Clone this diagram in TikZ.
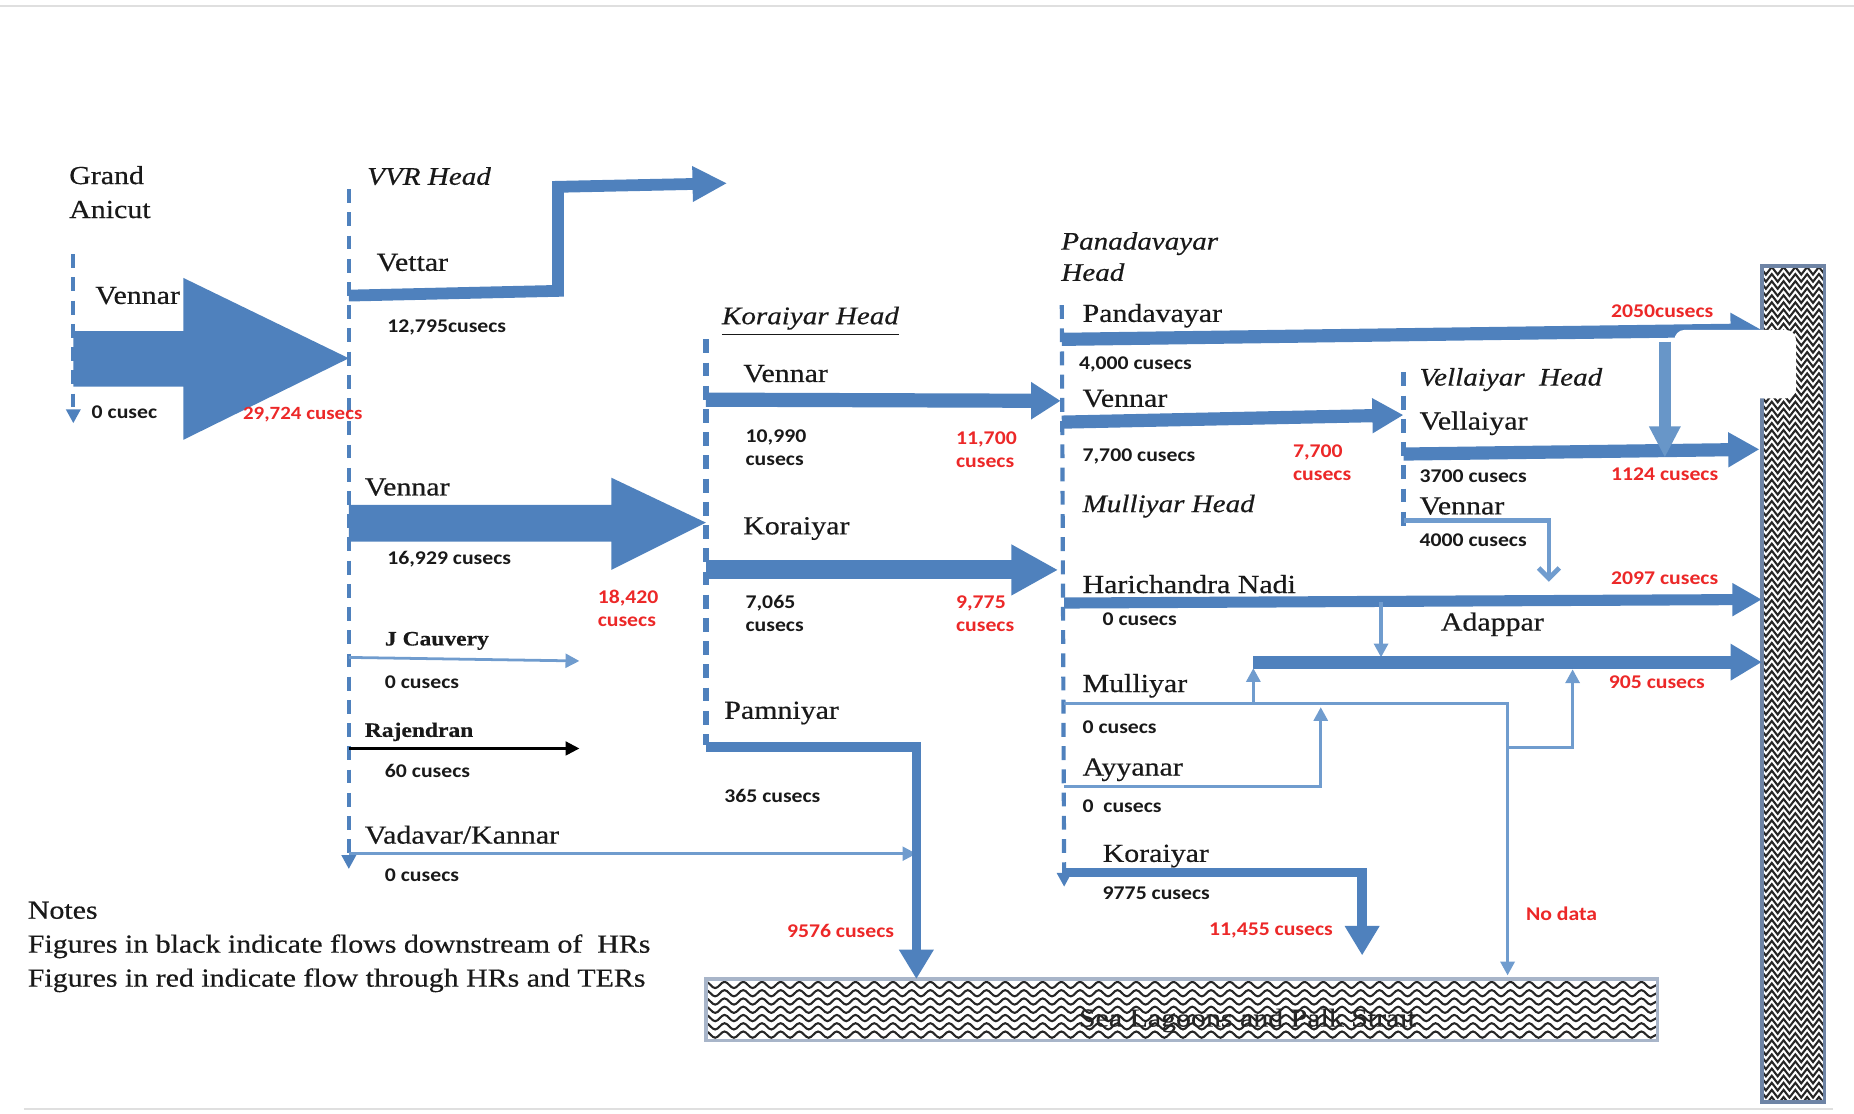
\documentclass[tikz,border=0pt]{standalone}
\usepackage{fontspec}
\setmainfont{Liberation Serif}[FakeStretch=1.15, FakeBold=0.5]
\newfontfamily\numfont{Carlito}[FakeStretch=1.12]
\usetikzlibrary{arrows.meta, decorations.pathmorphing}
\definecolor{riverblue}{RGB}{79,129,189}
\definecolor{thinblue}{RGB}{112,156,206}
\definecolor{dropblue}{RGB}{104,150,200}
\definecolor{flowred}{RGB}{236,40,40}
\definecolor{seaedge}{RGB}{110,132,165}
\tikzstyle{canal} = [font=\fontsize{7.5}{9.8}\selectfont, anchor=west, inner sep=0pt, align=left, text=black!90]
\tikzstyle{headname} = [canal, font=\fontsize{7.3}{9}\selectfont\itshape]
\tikzstyle{smallcanal} = [canal, font=\fontsize{5.9}{7}\selectfont\bfseries]
\tikzstyle{flowtxt} = [font=\numfont\bfseries\fontsize{5.6}{6.6}\selectfont, anchor=west, inner sep=0pt, align=left, text=black!90]
\tikzstyle{redtxt} = [flowtxt, text=flowred]
\tikzstyle{dashline} = [draw=riverblue, line width=1.2pt, dash pattern=on 4pt off 2.7pt, -{Triangle[width=4pt,length=4pt]}]
\tikzstyle{bigflow} = [draw=riverblue, line join=miter]
\tikzstyle{thinflow} = [draw=thinblue, line width=1pt, line join=miter, -{Triangle[width=4pt,length=4pt]}]

\begin{document}
\begin{tikzpicture}[x=0.012cm, y=-0.012cm]
\useasboundingbox (0,0) rectangle (1568,942);

% faint frame lines
\draw[gray!25, line width=0.6pt] (0,5) -- (1568,5);
\draw[gray!25, line width=0.6pt] (20,938) -- (1550,938);

% sea panels
\begin{scope}
  \clip (1490,225) rectangle (1543,932);
  \foreach \y in {229,235,...,932}
    \draw[black!85, line width=0.6pt, decorate, decoration={zigzag, segment length=3.4pt, amplitude=1.1pt}] (1486,\y) -- (1547,\y);
\end{scope}
\draw[seaedge, line width=1pt] (1490,225) rectangle (1543,932);
\begin{scope}
  \clip (597,828) rectangle (1402,880);
  \foreach \y in {833,840,...,880}
    \draw[black!85, line width=0.6pt, decorate, decoration={snake, segment length=5.4pt, amplitude=0.9pt}] (592,\y) -- (1408,\y);
\end{scope}
\draw[seaedge!60, line width=1pt] (597,828) rectangle (1402,880);
\node (sea) [canal, anchor=center, text=black!85] at (1055,863) {Sea Lagoons and Palk Strait};

% points of the canals
\coordinate (gatop) at (62,215);   \coordinate (gaend) at (62,358);
\coordinate (vvrtop) at (295,160); \coordinate (vvrend) at (295,735);
\coordinate (kortop) at (597,287); \coordinate (korend) at (597,630);
\coordinate (pantop) at (898,258); \coordinate (panend) at (900,750);
\coordinate (veltop) at (1187,315); \coordinate (velend) at (1187,452);

\coordinate (vet0) at (295,250); \coordinate (vet1) at (472,246);
\coordinate (vet2) at (472,158); \coordinate (vet3) at (615,155);
\coordinate (jc0) at (295,556);  \coordinate (jc1) at (490,559);
\coordinate (raj0) at (295,633); \coordinate (raj1) at (490,633);
\coordinate (vad0) at (295,722); \coordinate (vad1) at (775,722);

\coordinate (kven0) at (597,338); \coordinate (kven1) at (897,339);
\coordinate (kkor0) at (597,482); \coordinate (kkor1) at (895,482);
\coordinate (pam0) at (597,632);  \coordinate (pam1) at (775,632);
\coordinate (pam2) at (775,828);

\coordinate (pand0) at (898,287); \coordinate (pand1) at (1490,279);
\coordinate (pven0) at (898,357); \coordinate (pven1) at (1187,351);
\coordinate (har0) at (900,510);  \coordinate (har1) at (1490,507);
\coordinate (har2) at (1168,509); \coordinate (har3) at (1168,556);
\coordinate (ada0) at (1060,560); \coordinate (ada1) at (1490,560);
\coordinate (mul0) at (900,595);  \coordinate (mul1) at (1275,595);
\coordinate (mul2) at (1275,825); \coordinate (mul3) at (1060,595);
\coordinate (mul4) at (1060,565); \coordinate (mul5) at (1275,632);
\coordinate (mul6) at (1330,632); \coordinate (mul7) at (1330,566);
\coordinate (ayy0) at (900,665);  \coordinate (ayy1) at (1117,665);
\coordinate (ayy2) at (1117,598);
\coordinate (bkor0) at (900,738); \coordinate (bkor1) at (1152,738);
\coordinate (bkor2) at (1152,808);

\coordinate (vel0) at (1187,384); \coordinate (vel1) at (1488,380);
\coordinate (vven0) at (1187,440); \coordinate (vven1) at (1310,440);
\coordinate (vven2) at (1310,492);
\coordinate (drop0) at (1408,289); \coordinate (drop1) at (1408,387);

% head regulators
\draw[dashline] (gatop) -- (gaend);
\draw[dashline] (vvrtop) -- (vvrend);
\draw[dashline, -, line width=1.5pt] (kortop) -- (korend);
\draw[dashline] (pantop) -- (panend);
\draw[dashline, -] (veltop) -- (velend);

% big flows
\fill[riverblue] (62,280) -- (155,280) -- (155,235) -- (295,303) -- (155,372) -- (155,327) -- (62,327) -- cycle;
\fill[riverblue] (295,427) -- (517,427) -- (517,404) -- (597,442) -- (517,482) -- (517,458) -- (295,458) -- cycle;

% Arrows
\draw[bigflow, line width=3.4pt, -{Triangle[width=9.6pt,length=10pt]}] (vet0) -- (vet1) -- (vet2) -- (vet3);
\draw[thinflow, line width=0.8pt] (jc0) -- (jc1);
\draw[line width=0.7pt, -{Triangle[width=4pt,length=4pt]}] (raj0) -- (raj1);
\draw[thinflow, line width=0.8pt] (vad0) -- (vad1);

\draw[bigflow, line width=4.1pt, -{Triangle[width=10.2pt,length=8.5pt]}] (kven0) -- (kven1);
\draw[bigflow, line width=5.5pt, -{Triangle[width=13.7pt,length=13.5pt]}] (kkor0) -- (kkor1);
\draw[bigflow, line width=2.8pt, -{Triangle[width=9.5pt,length=8.5pt]}] (pam0) -- (pam1) -- (pam2);

\draw[bigflow, line width=3.8pt, -{Triangle[width=9.5pt,length=9pt]}] (pand0) -- (pand1);
\draw[bigflow, line width=3.8pt, -{Triangle[width=9.5pt,length=9pt]}] (pven0) -- (pven1);
\draw[bigflow, line width=3.2pt, -{Triangle[width=9pt,length=8.5pt]}] (har0) -- (har1);
\draw[thinflow] (har2) -- (har3);
\draw[bigflow, line width=3.8pt, -{Triangle[width=10pt,length=9pt]}] (ada0) -- (ada1);
\draw[thinflow] (mul0) -- (mul1) -- (mul2);
\draw[thinflow] (mul3) -- (mul4);
\draw[thinflow] (mul5) -- (mul6) -- (mul7);
\draw[thinflow] (ayy0) -- (ayy1) -- (ayy2);
\draw[bigflow, line width=2.8pt, -{Triangle[width=9.5pt,length=8.5pt]}] (bkor0) -- (bkor1) -- (bkor2);

\draw[bigflow, line width=3.8pt, -{Triangle[width=9.5pt,length=9pt]}] (vel0) -- (vel1);
\draw[thinflow, line width=1.4pt, -{Straight Barb[width=6pt,length=3pt]}] (vven0) -- (vven1) -- (vven2);

% blank box over the outfall
\fill[white, rounded corners=3pt] (1416,279) rectangle (1519,337);
\draw[draw=dropblue, line width=3.6pt, -{Triangle[width=8.5pt,length=9pt]}] (drop0) -- (drop1);

% Grand Anicut and VVR Head
\node (ga) [canal] at (58,162.5) {Grand\\Anicut};
\node (gaven) [canal] at (80,250) {Vennar};
\node (ga0) [flowtxt] at (77,349) {0 cusec};
\node (ga1) [redtxt, font=\numfont\bfseries\fontsize{5.4}{6.4}\selectfont] at (205,351) {29,724 cusecs};
\node (vvr) [headname] at (310,149) {VVR Head};
\node (vet) [canal] at (318,222) {Vettar};
\node (vetq) [flowtxt] at (327,277) {12,795cusecs};
\node (vven) [canal] at (308,412) {Vennar};
\node (vvenq) [flowtxt] at (327,473) {16,929 cusecs};
\node (vvenr) [redtxt] at (505,514.5) {18,420\\cusecs};
\node (jc) [smallcanal] at (325,542) {J Cauvery};
\node (jcq) [flowtxt] at (325,577) {0 cusecs};
\node (raj) [smallcanal] at (308,619) {Rajendran};
\node (rajq) [flowtxt] at (325,652) {60 cusecs};
\node (vad) [canal] at (308,706) {Vadavar/Kannar};
\node (vadq) [flowtxt] at (325,740) {0 cusecs};

% Koraiyar Head
\node (kor) [headname] at (610,272) {\underline{Koraiyar Head}};
\node (kven) [canal] at (628,316) {Vennar};
\node (kvenq) [flowtxt] at (630,379) {10,990\\cusecs};
\node (kvenr) [redtxt] at (808,380.5) {11,700\\cusecs};
\node (kkor) [canal] at (628,447) {Koraiyar};
\node (kkorq) [flowtxt] at (630,519) {7,065\\cusecs};
\node (kkorr) [redtxt] at (808,519) {9,775\\cusecs};
\node (pam) [canal] at (612,603) {Pamniyar};
\node (pamq) [flowtxt] at (612,673) {365 cusecs};
\node (pamr) [redtxt] at (665,787) {9576 cusecs};

% Panadavayar and Mulliyar Heads
\node (pan) [headname] at (897,217) {Panadavayar\\Head};
\node (pand) [canal] at (915,267) {Pandavayar};
\node (pandq) [flowtxt] at (912,308) {4,000 cusecs};
\node (pandr) [redtxt] at (1362,263) {2050cusecs};
\node (pven) [canal] at (915,337) {Vennar};
\node (pvenq) [flowtxt] at (915,386) {7,700 cusecs};
\node (pvenr) [redtxt] at (1093,391.5) {7,700\\cusecs};
\node (mulh) [headname] at (915,428) {Mulliyar Head};
\node (har) [canal] at (915,494) {Harichandra Nadi};
\node (harq) [flowtxt] at (932,524) {0 cusecs};
\node (harr) [redtxt] at (1362,489) {2097 cusecs};
\node (ada) [canal] at (1218,528) {Adappar};
\node (adar) [redtxt] at (1360,577) {905 cusecs};
\node (mul) [canal] at (915,580) {Mulliyar};
\node (mulq) [flowtxt] at (915,615) {0 cusecs};
\node (mulr) [redtxt] at (1290,773) {No data};
\node (ayy) [canal] at (915,651) {Ayyanar};
\node (ayyq) [flowtxt] at (915,682) {0~~cusecs};
\node (bkor) [canal] at (932,724) {Koraiyar};
\node (bkorq) [flowtxt] at (932,755) {9775 cusecs};
\node (bkorr) [redtxt] at (1022,787) {11,455 cusecs};

% Vellaiyar Head
\node (velh) [headname] at (1200,321) {Vellaiyar~~Head};
\node (vel) [canal] at (1200,358) {Vellaiyar};
\node (velq) [flowtxt] at (1200,403) {3700 cusecs};
\node (velr) [redtxt] at (1362,401) {1124 cusecs};
\node (vlven) [canal] at (1200,428) {Vennar};
\node (vlvenq) [flowtxt] at (1200,457) {4000 cusecs};

% Notes
\node (notes) [canal, anchor=north west] at (23,762) {Notes\\Figures in black indicate flows downstream of~~HRs\\Figures in red indicate flow through HRs and TERs};

\end{tikzpicture}
\end{document}
